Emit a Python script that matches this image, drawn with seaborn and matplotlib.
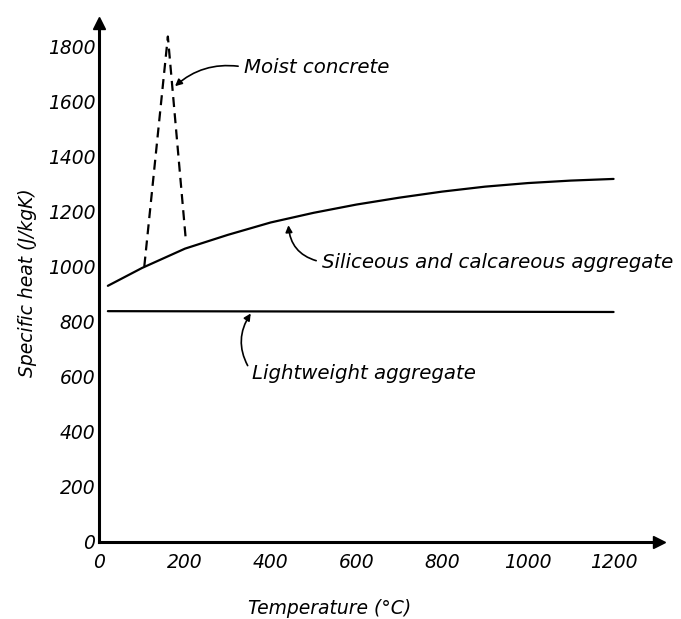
import matplotlib
matplotlib.use("Agg")
import matplotlib.pyplot as plt
import seaborn as sns
import pandas as pd

# values
temp_silic = [20, 100, 200, 300, 400, 500, 600, 700, 800, 900, 1000, 1100, 1200]
heat_silic = [930, 995, 1065, 1115, 1160, 1195, 1225, 1250, 1272, 1290, 1303, 1312, 1318]
temp_light = [20, 1200]
heat_light = [838, 835]
temp_moist = [105, 160, 202]
heat_moist = [1000, 1835, 1095]

x_ticks = [0, 200, 400, 600, 800, 1000, 1200]
y_ticks = [0, 200, 400, 600, 800, 1000, 1200, 1400, 1600, 1800]

sns.set_style("white")
plt.rcParams["font.family"] = ["DejaVu Sans"]
plt.rcParams["font.style"] = "italic"
plt.rcParams["text.color"] = "black"
plt.rcParams["axes.labelcolor"] = "black"
plt.rcParams["xtick.color"] = "black"
plt.rcParams["ytick.color"] = "black"

fig = plt.figure(figsize=(6.81, 6.19), dpi=100)
ax = fig.add_axes([0.1458, 0.1244, 0.8219, 0.8384])

silic = pd.DataFrame({"T": temp_silic, "c": heat_silic})
light = pd.DataFrame({"T": temp_light, "c": heat_light})
moist = pd.DataFrame({"T": temp_moist, "c": heat_moist})

sns.lineplot(data=silic, x="T", y="c", ax=ax, color="black", lw=1.6)
sns.lineplot(data=light, x="T", y="c", ax=ax, color="black", lw=1.6)
sns.lineplot(data=moist, x="T", y="c", ax=ax, color="black", lw=1.6,
             dashes=False, linestyle=(0, (4.5, 2.8)))

ax.set_xlim(0, 1306)
ax.set_ylim(0, 1884)
ax.set_xticks(x_ticks)
ax.set_yticks(y_ticks)
ax.tick_params(axis="x", direction="in", length=10, width=1.4, pad=8, labelsize=13.5)
ax.tick_params(axis="y", direction="in", length=9, width=1.4, pad=3, labelsize=13.5)

for s in ["top", "right"]:
    ax.spines[s].set_visible(False)
for s in ["left", "bottom"]:
    ax.spines[s].set_linewidth(2.2)
    ax.spines[s].set_color("black")

# arrow heads on the axes
ax.plot(1, 0, ">k", ms=9, transform=ax.get_yaxis_transform(), clip_on=False)
ax.plot(0, 1, "^k", ms=9, transform=ax.get_xaxis_transform(), clip_on=False)

ax.set_xlabel("Temperature (°C)", fontsize=13.5)
ax.xaxis.set_label_coords(0.411, -0.110)
ax.set_ylabel("Specific heat (J/kgK)", fontsize=13.5, labelpad=8)

arrow = dict(arrowstyle="-|>", color="black", lw=1.2, mutation_scale=10, relpos=(0, 0.5))
ax.annotate("Moist concrete", xy=(172, 1648), xytext=(338, 1724),
            fontsize=14.2, va="center", ha="left",
            arrowprops=dict(arrow, connectionstyle="arc3,rad=0.25"))
ax.annotate("Siliceous and calcareous aggregate", xy=(441, 1160), xytext=(520, 1016),
            fontsize=14.2, va="center", ha="left",
            arrowprops=dict(arrow, connectionstyle="arc3,rad=-0.4"))
ax.annotate("Lightweight aggregate", xy=(357, 838), xytext=(357, 613),
            fontsize=14.2, va="center", ha="left",
            arrowprops=dict(arrow, connectionstyle="arc3,rad=-0.35"))

plt.savefig("out.png", dpi=100)
